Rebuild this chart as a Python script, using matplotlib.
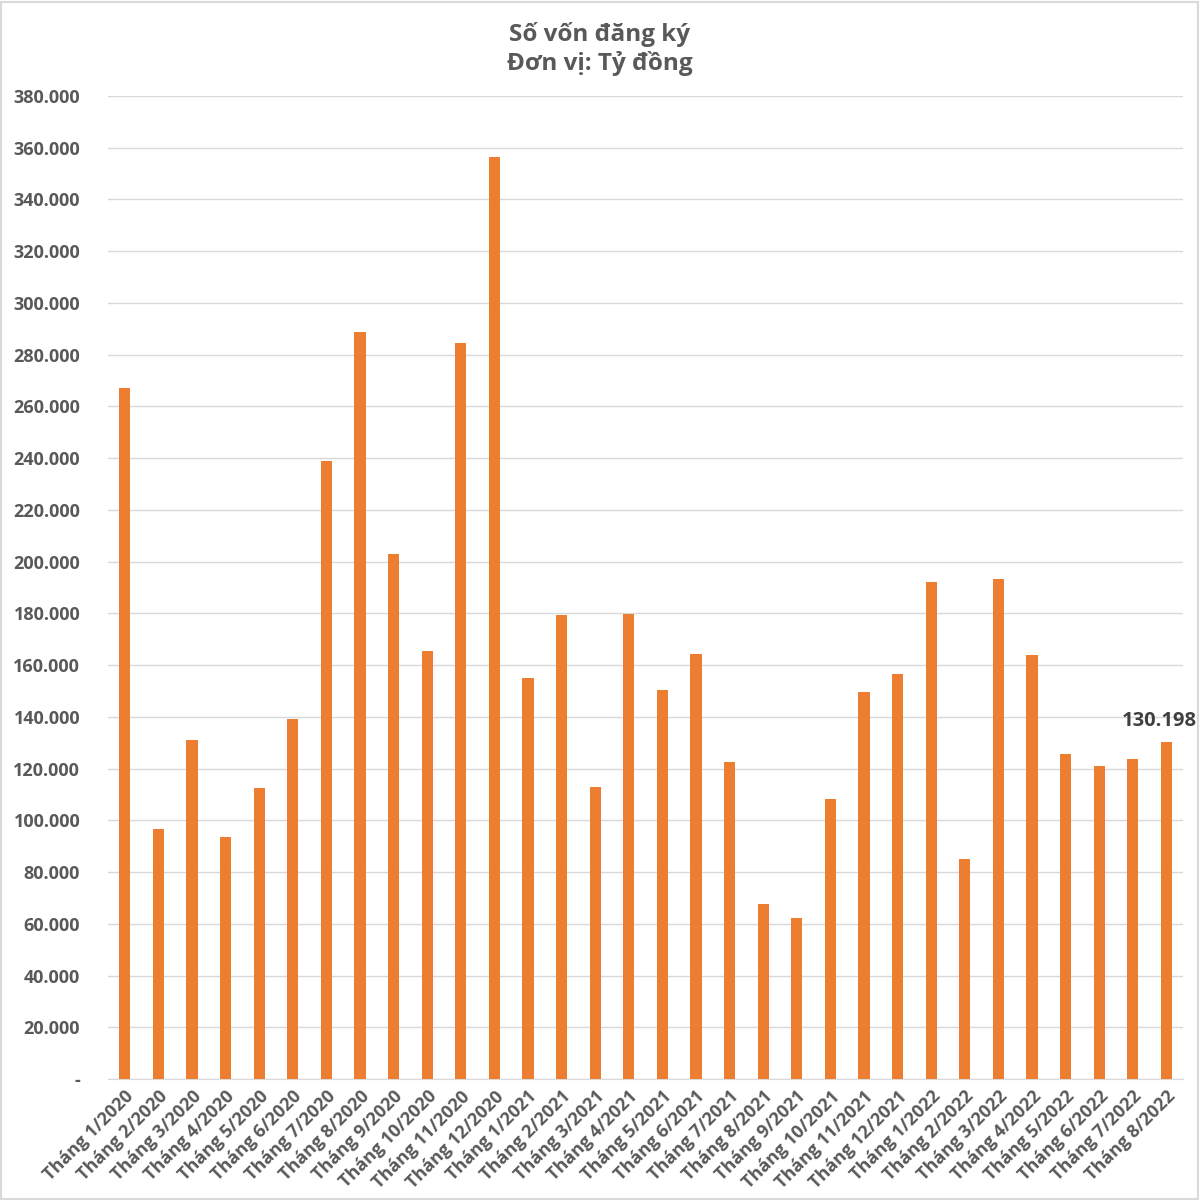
import matplotlib.pyplot as plt
from matplotlib.patches import Rectangle
from matplotlib.ticker import FuncFormatter

plt.rcParams['font.family'] = ['Open Sans', 'DejaVu Sans']

# Monthly registered capital (billion VND)
months = ['Tháng %d/2020' % m for m in range(1, 13)] + \
         ['Tháng %d/2021' % m for m in range(1, 13)] + \
         ['Tháng %d/2022' % m for m in range(1, 9)]
values = [267.1, 96.6, 131.0, 93.5, 112.5, 139.2, 238.9, 288.8, 202.9, 165.4, 284.5, 356.4,
          155.0, 179.4, 112.9, 179.7, 150.4, 164.3, 122.5, 67.6, 62.2, 108.2, 149.6, 156.5,
          192.1, 85.0, 193.3, 163.9, 125.6, 121.0, 123.7, 130.198]

text_col = '#595959'
bar_col = '#ED7D31'

fig = plt.figure(figsize=(12, 12), dpi=100)
ax = fig.add_axes([0.09, 0.1008, 0.896, 0.8192])

x = range(len(values))
ax.bar(x, values, width=0.33, color=bar_col, zorder=3)

ax.set_xlim(-0.5, len(values) - 0.5)
ax.set_ylim(0, 380)
ax.set_yticks(range(0, 381, 20))

def fmt(v, pos):
    if v == 0:
        return '-'
    return '%d.000' % v

ax.yaxis.set_major_formatter(FuncFormatter(fmt))
ax.grid(axis='y', color='#d9d9d9', linewidth=1, zorder=0)
for s in ['top', 'right', 'left']:
    ax.spines[s].set_visible(False)
ax.spines['bottom'].set_color('#d9d9d9')
ax.tick_params(axis='both', length=0, colors=text_col, labelsize=13)
ax.tick_params(axis='y', pad=20)
ax.tick_params(axis='x', pad=6)

ax.set_xticks(list(x))
ax.set_xticklabels(months, rotation=45, ha='right', rotation_mode='anchor',
                   fontweight='bold', color=text_col, fontsize=13)
for lbl in ax.get_yticklabels():
    lbl.set_fontweight('bold')

# label on the last bar
ax.annotate('130.198', (len(values) - 1, values[-1]), xytext=(-5, 8), textcoords='offset points',
            ha='center', va='bottom', fontsize=14.5, fontweight='bold', color='#404040')

fig.text(0.5, 0.982, 'Số vốn đăng ký\nĐơn vị: Tỷ đồng', ha='center', va='top',
         fontsize=17.5, fontweight='bold', color=text_col, linespacing=1.25)

fig.patches.append(Rectangle((0.001, 0.001), 0.997, 0.997, transform=fig.transFigure,
                             fill=False, edgecolor='#d9d9d9', linewidth=1.5))

fig.savefig('out.png', dpi=100)
